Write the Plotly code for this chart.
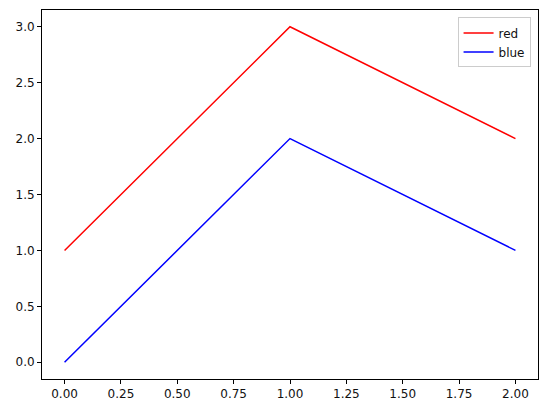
import plotly.graph_objects as go

x_vals = [0, 1, 2]
red_vals = [1, 3, 2]
blue_vals = [0, 2, 1]
x_ticks = [0.0, 0.25, 0.5, 0.75, 1.0, 1.25, 1.5, 1.75, 2.0]
y_ticks = [0.0, 0.5, 1.0, 1.5, 2.0, 2.5, 3.0]

fig = go.Figure()
fig.add_trace(go.Scatter(x=x_vals, y=red_vals, mode="lines", name="red",
                         line=dict(color="red", width=1.5)))
fig.add_trace(go.Scatter(x=x_vals, y=blue_vals, mode="lines", name="blue",
                         line=dict(color="blue", width=1.5)))

axis_style = dict(showgrid=False, zeroline=False, showline=True, linecolor="black",
                  linewidth=1, mirror=True, ticks="outside", ticklen=4,
                  tickcolor="black", tickwidth=1, automargin=False)

# page body has an 8px margin, so shift the plot area up/left to compensate
fig.update_layout(
    width=547, height=413,
    margin=dict(l=34, r=17, t=2, b=42),
    paper_bgcolor="white", plot_bgcolor="white",
    font=dict(family="DejaVu Sans", size=12, color="#111111"),
    xaxis=dict(range=[-0.1, 2.1], tickvals=x_ticks,
               ticktext=[f"{v:.2f}" for v in x_ticks], **axis_style),
    yaxis=dict(range=[-0.15, 3.15], tickvals=y_ticks,
               ticktext=[f"{v:.1f}" for v in y_ticks], **axis_style),
    legend=dict(x=0.985, y=0.98, xanchor="right", yanchor="top",
                bordercolor="#cccccc", borderwidth=1, bgcolor="white",
                font=dict(size=12)),
)

fig.write_html("out.html")
